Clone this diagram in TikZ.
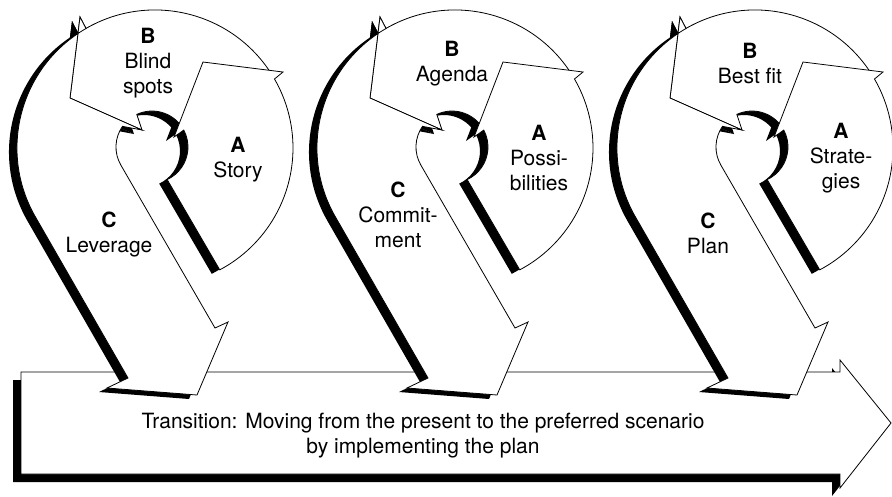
\documentclass[tikz,border=0pt]{standalone}
\usepackage{fontspec}
\setmainfont{TeX Gyre Heros}
\usetikzlibrary{positioning}
% the three arrows of one cycle (px, y down)
\def\arrowA{(274.5,79) arc[start angle=-30, end angle=62, radius=138] -- (167.2,179.6) arc[start angle=65, end angle=-28, radius=36] -- (174,137) -- (203,62) -- (283,72) -- cycle}
\def\arrowB{(269.4,70.8) arc[start angle=-34, end angle=-120, radius=138] -- (80,17) -- (70,98) -- (142,130) -- (136.8,114.4) arc[start angle=-115, end angle=-35, radius=36] -- cycle}
\def\arrowC{(80,17) -- (86,28.5) arc[start angle=-120, end angle=-210, radius=138] -- (128,378) -- (107,388) -- (197,395) -- (228,322) -- (215,328) -- (120.8,165) arc[start angle=150, end angle=215, radius=36] -- (142,130) -- (70,98) -- cycle}
\begin{document}
\begin{tikzpicture}[x=1pt, y=-1pt,
  edge/.style={draw, line width=0.8pt, fill=white, line join=miter},
  dropfill/.style={fill=black, shift={(-8,4)}},
  lab/.style={align=center, font=\fontsize{21}{25}\selectfont, inner sep=0pt}
]
  \useasboundingbox (0,0) rectangle (892,496);

  % transition arrow
  \fill[shift={(-8,8)}] (21,372) -- (840,372) -- (840,360) -- (891,423) -- (840,488) -- (840,474) -- (21,474) -- cycle;
  \draw[edge] (21,372) -- (840,372) -- (840,360) -- (891,423) -- (840,488) -- (840,474) -- (21,474) -- cycle;

  % the three cycles
  \foreach \i in {0,1,2}{
    \begin{scope}[xshift=300*\i]
      \fill[dropfill] \arrowA;
      \fill[dropfill] \arrowB;
      \draw[edge] \arrowB;
      \draw[edge] \arrowA;
      \fill[dropfill] \arrowC;
      \draw[edge] \arrowC;
    \end{scope}
  }

  \node[lab] (b1) at (148,63) {\textbf{B}\\Blind\\spots};
  \node[lab] (a1) at (238,160) {\textbf{A}\\Story};
  \node[lab] (c1) at (109,235) {\textbf{C}\\Leverage};

  \node[lab] (b2) at (452,64) {\textbf{B}\\Agenda};
  \node[lab] (a2) at (539,158) {\textbf{A}\\Possi-\\bilities};
  \node[lab] (c2) at (398,215) {\textbf{C}\\Commit-\\ment};

  \node[lab] (b3) at (750,63) {\textbf{B}\\Best fit};
  \node[lab] (a3) at (841,158) {\textbf{A}\\Strate-\\gies};
  \node[lab] (c3) at (708,233) {\textbf{C}\\Plan};

  \node[lab] (trans) at (423,436) {Transition: Moving from the present to the preferred scenario\\by implementing the plan};
\end{tikzpicture}
\end{document}
